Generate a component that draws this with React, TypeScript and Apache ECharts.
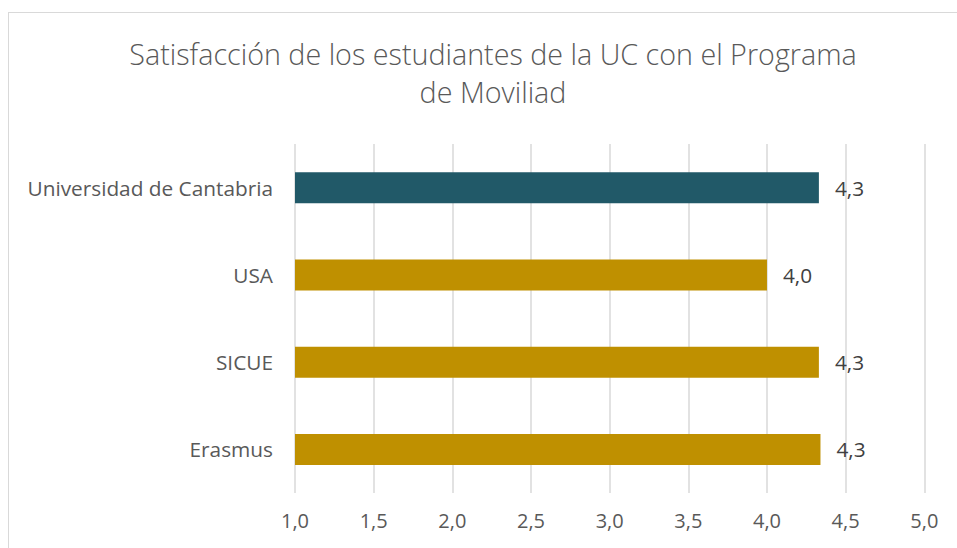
import React, { useEffect, useRef } from "react";
import * as echarts from "echarts";

const categories = ["Universidad de Cantabria", "USA", "SICUE", "Erasmus"];
const values = [4.33, 4.0, 4.33, 4.34];
const barColors = ["#215968", "#BF9000", "#BF9000", "#BF9000"];
const titleText = "Satisfacción de los estudiantes de la UC con el Programa\nde Moviliad";

const fmt = (v: number) => v.toFixed(1).replace(".", ",");
const FONT = "Open Sans";

export default function App() {
  const ref = useRef<HTMLDivElement>(null);
  useEffect(() => {
    document.body.style.margin = "0";
    document.body.style.overflow = "hidden";
    const chart = echarts.init(ref.current!, null, { renderer: "svg" });
    chart.setOption({
      animation: false,
      backgroundColor: "#ffffff",
      title: {
        text: titleText,
        left: 488,
        textAlign: "center",
        top: 29,
        textStyle: {
          fontFamily: FONT,
          fontWeight: 300,
          fontSize: 28.7,
          color: "#595959",
          lineHeight: 38,
        },
      },
      graphic: [
        { type: "line", shape: { x1: 8.5, y1: 12, x2: 8.5, y2: 548 }, style: { stroke: "#d9d9d9", lineWidth: 1 } },
        { type: "line", shape: { x1: 8, y1: 12.5, x2: 957, y2: 12.5 }, style: { stroke: "#d9d9d9", lineWidth: 1 } },
      ],
      grid: { left: 295, top: 144, width: 629.3, height: 349, containLabel: false },
      xAxis: {
        type: "value",
        min: 1,
        max: 5,
        interval: 0.5,
        axisLine: { show: false },
        axisTick: { show: false },
        splitLine: { show: true, lineStyle: { color: "#d9d9d9", width: 1.5 } },
        axisLabel: {
          formatter: (v: number) => fmt(v),
          margin: 17,
          fontFamily: FONT,
          fontSize: 20,
          color: "#595959",
        },
      },
      yAxis: {
        type: "category",
        inverse: true,
        data: categories,
        axisLine: { show: false },
        axisTick: { show: false },
        splitLine: { show: false },
        axisLabel: {
          margin: 22,
          fontFamily: FONT,
          fontSize: 20.8,
          color: "#595959",
        },
      },
      series: [
        {
          type: "bar",
          barWidth: 31,
          data: values.map((v, i) => ({ value: v, itemStyle: { color: barColors[i] } })),
          label: {
            show: true,
            position: "right",
            distance: 16,
            formatter: (p: any) => fmt(p.value),
            fontFamily: FONT,
            fontSize: 20.8,
            color: "#404040",
          },
        },
      ],
    });
    return () => chart.dispose();
  }, []);
  return <div ref={ref} style={{ width: 957, height: 548, position: "absolute", left: 0, top: 0 }} />;
}
